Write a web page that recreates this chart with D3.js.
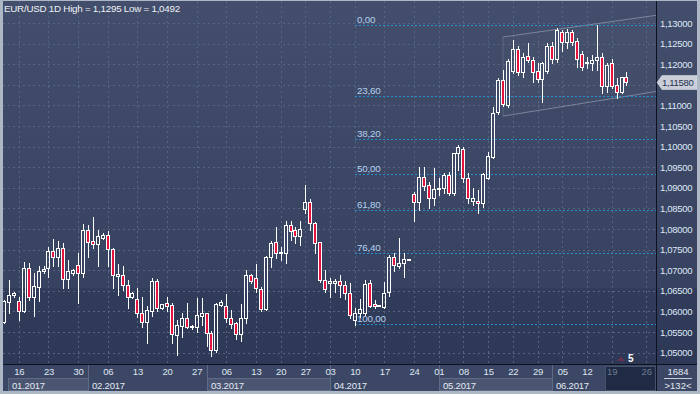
<!DOCTYPE html>
<html><head><meta charset="utf-8">
<script src="https://cdn.jsdelivr.net/npm/d3@7"></script>
<style>
body{margin:0;background:#2e3a57;overflow:hidden}
svg{display:block}
text{font-family:"Liberation Sans",Arial,sans-serif}
</style></head><body>
<svg id="c" width="700" height="394"></svg>
<script>
const opens=[1.0574,1.0624,1.0639,1.0625,1.0601,1.0705,1.0636,1.0660,1.0697,1.0705,1.0747,1.0733,1.0753,1.0678,1.0694,1.0713,1.0694,1.0798,1.0771,1.0763,1.0779,1.0786,1.0751,1.0687,1.0689,1.0664,1.0636,1.0630,1.0596,1.0575,1.0601,1.0674,1.0608,1.0620,1.0616,1.0543,1.0565,1.0583,1.0561,1.0562,1.0590,1.0596,1.0547,1.0507,1.0616,1.0613,1.0583,1.0573,1.0545,1.0583,1.0689,1.0681,1.0654,1.0605,1.0733,1.0768,1.0741,1.0741,1.0810,1.0798,1.0782,1.0848,1.0865,1.0814,1.0768,1.0676,1.0670,1.0670,1.0674,1.0664,1.0644,1.0579,1.0596,1.0596,1.0668,1.0618,1.0614,1.0610,1.0646,1.0733,1.0710,1.0717,1.0725,1.0885,1.0866,1.0926,1.0907,1.0875,1.0897,1.0899,1.0931,1.0888,1.0984,1.0994,1.0923,1.0868,1.0868,1.0863,1.0923,1.0974,1.1083,1.1162,1.1101,1.1184,1.1236,1.1182,1.1220,1.1210,1.1184,1.1164,1.1184,1.1243,1.1212,1.1278,1.1253,1.1278,1.1257,1.1225,1.1202,1.1202,1.1209,1.1217,1.1146,1.1204,1.1150,1.1133,1.1168];
const highs=[1.0628,1.0676,1.0647,1.0636,1.0721,1.0717,1.0694,1.0710,1.0709,1.0757,1.0775,1.0771,1.0767,1.0725,1.0702,1.0741,1.0812,1.0810,1.0830,1.0798,1.0791,1.0794,1.0753,1.0715,1.0710,1.0676,1.0648,1.0656,1.0636,1.0612,1.0681,1.0679,1.0618,1.0636,1.0621,1.0579,1.0597,1.0620,1.0566,1.0632,1.0632,1.0597,1.0553,1.0621,1.0628,1.0642,1.0604,1.0575,1.0618,1.0701,1.0691,1.0715,1.0660,1.0735,1.0772,1.0806,1.0757,1.0820,1.0820,1.0806,1.0820,1.0907,1.0872,1.0818,1.0769,1.0701,1.0681,1.0679,1.0689,1.0675,1.0668,1.0608,1.0630,1.0676,1.0676,1.0628,1.0616,1.0672,1.0737,1.0741,1.0778,1.0741,1.0727,1.0891,1.0951,1.0951,1.0915,1.0948,1.0923,1.0935,1.0939,1.0985,1.1004,1.1000,1.0935,1.0899,1.0895,1.0935,1.0988,1.1096,1.1166,1.1186,1.1212,1.1259,1.1243,1.1227,1.1251,1.1218,1.1202,1.1206,1.1251,1.1255,1.1287,1.1283,1.1285,1.1283,1.1263,1.1231,1.1218,1.1222,1.1295,1.1227,1.1202,1.1212,1.1166,1.1170,1.1180];
const lows=[1.0572,1.0596,1.0635,1.0579,1.0599,1.0628,1.0590,1.0626,1.0693,1.0684,1.0709,1.0711,1.0658,1.0658,1.0689,1.0620,1.0684,1.0733,1.0753,1.0710,1.0775,1.0709,1.0656,1.0640,1.0652,1.0608,1.0632,1.0587,1.0562,1.0523,1.0589,1.0601,1.0607,1.0602,1.0524,1.0495,1.0539,1.0559,1.0557,1.0551,1.0567,1.0515,1.0492,1.0502,1.0612,1.0575,1.0559,1.0533,1.0527,1.0571,1.0670,1.0648,1.0600,1.0604,1.0707,1.0729,1.0725,1.0718,1.0774,1.0767,1.0760,1.0838,1.0798,1.0741,1.0672,1.0648,1.0634,1.0648,1.0634,1.0630,1.0583,1.0567,1.0587,1.0592,1.0610,1.0608,1.0613,1.0608,1.0638,1.0699,1.0705,1.0683,1.0724,1.0820,1.0846,1.0895,1.0850,1.0858,1.0883,1.0887,1.0883,1.0883,1.0943,1.0915,1.0863,1.0858,1.0840,1.0854,1.0921,1.0972,1.1079,1.1099,1.1096,1.1179,1.1174,1.1170,1.1206,1.1158,1.1158,1.1109,1.1178,1.1202,1.1206,1.1231,1.1239,1.1247,1.1194,1.1186,1.1190,1.1186,1.1186,1.1131,1.1133,1.1142,1.1117,1.1130,1.1150];
const closes=[1.0625,1.0640,1.0645,1.0600,1.0705,1.0636,1.0662,1.0698,1.0703,1.0747,1.0733,1.0753,1.0678,1.0697,1.0701,1.0694,1.0798,1.0769,1.0763,1.0782,1.0786,1.0751,1.0689,1.0690,1.0664,1.0636,1.0644,1.0596,1.0575,1.0604,1.0674,1.0608,1.0617,1.0614,1.0544,1.0567,1.0583,1.0561,1.0565,1.0592,1.0596,1.0547,1.0507,1.0617,1.0622,1.0583,1.0569,1.0545,1.0583,1.0689,1.0675,1.0656,1.0605,1.0733,1.0766,1.0741,1.0745,1.0810,1.0796,1.0782,1.0799,1.0865,1.0814,1.0766,1.0676,1.0654,1.0674,1.0674,1.0664,1.0644,1.0592,1.0596,1.0605,1.0666,1.0614,1.0612,1.0616,1.0644,1.0733,1.0713,1.0717,1.0727,1.0727,1.0866,1.0926,1.0905,1.0875,1.0897,1.0900,1.0931,1.0887,1.0984,1.1000,1.0923,1.0875,1.0875,1.0863,1.0934,1.0976,1.1082,1.1162,1.1104,1.1208,1.1236,1.1182,1.1217,1.1210,1.1182,1.1164,1.1204,1.1243,1.1212,1.1283,1.1253,1.1278,1.1253,1.1213,1.1194,1.1205,1.1210,1.1217,1.1146,1.1198,1.1146,1.1132,1.1168,1.1158];

const dayLabels=["16","23","30","06","13","20","27","06","13","20","27","03","10","17","24","01","08","15","22","29","05","12","19","26"];
const dayIdx=[3,9,15,21,27,33,39,45,51,56,61,66,71,77,83,88,93,98,103,108,113,118,123,130];
const monthLabels=["01.2017","02.2017","03.2017","04.2017","05.2017","06.2017"];
const monthStartIdx=[0,17,41,66,88,111];
const monthBoxed=[true,false,true,false,true,false];
const yTicks=[1.13,1.125,1.12,1.115,1.11,1.105,1.10,1.095,1.09,1.085,1.08,1.075,1.07,1.065,1.06,1.055,1.05];
const fibLevels=[0,23.6,38.2,50,61.8,76.4,100];
const fibLabels=["0,00","23,60","38,20","50,00","61,80","76,40","100,00"];
const fibHigh=1.1295, fibLow=1.0570, fibStartIdx=71;
const channelUpper=[[101,1.1266],[132.2,1.1319]];
const channelLower=[[101,1.1074],[132.2,1.1134]];
const lastPrice=1.1158;
const titleText="EUR/USD 1D High = 1,1295 Low = 1,0492";
const futureStartIdx=121.6;
const markerIdx=125, markerText="5";
const cornerTop="1684", cornerBottom=">132<";

const W=700,H=394, plotL=3, plotR=656, plotT=1, plotB=364;
const svg=d3.select("#c");
const x=d3.scaleLinear().domain([0,131]).range([4,4+131*4.94]);
const y=d3.scaleLinear().domain([1.05,1.13]).range([352.6,23]);
const fmt=v=>d3.format(".5f")(v).replace(".",",");

const defs=svg.append("defs");
const g1=defs.append("linearGradient").attr("id","bg").attr("x1",0).attr("x2",0).attr("y1",0).attr("y2",1);
[[0,"#424e6b"],[0.73,"#36425f"],[0.731,"#303c59"],[1,"#2b3754"]].forEach(s=>g1.append("stop").attr("offset",s[0]).attr("stop-color",s[1]));
const cp=defs.append("clipPath").attr("id","plot");
cp.append("rect").attr("x",plotL).attr("y",plotT).attr("width",plotR-plotL).attr("height",plotB-plotT);

svg.append("rect").attr("width",W).attr("height",H).attr("fill","url(#bg)");

const plot=svg.append("g").attr("clip-path","url(#plot)");
plot.selectAll(".hg").data(yTicks).enter().append("line")
  .attr("x1",plotL).attr("x2",plotR)
  .attr("y1",d=>Math.round(y(d))+0.5).attr("y2",d=>Math.round(y(d))+0.5)
  .attr("stroke","#57647f").attr("stroke-dasharray","2,3");
plot.selectAll(".vg").data(dayIdx).enter().append("line")
  .attr("x1",d=>Math.round(x(d))+0.5).attr("x2",d=>Math.round(x(d))+0.5)
  .attr("y1",plotT).attr("y2",plotB)
  .attr("stroke","#57647f").attr("stroke-dasharray","2,3");

// channel
const chLine=d3.line().x(d=>x(d[0])).y(d=>y(d[1]));
plot.append("path").attr("d",chLine([channelUpper[0],channelUpper[1],channelLower[1],channelLower[0]])+"Z")
  .attr("fill","rgba(255,255,255,0.02)").attr("stroke","none");
[channelUpper,channelLower].forEach(c=>plot.append("path").attr("d",chLine(c)).attr("fill","none").attr("stroke","#8e99ae").attr("stroke-opacity",0.75));
plot.append("path").attr("d",chLine([channelUpper[0],channelLower[0]])).attr("fill","none").attr("stroke","#8e99ae").attr("stroke-opacity",0.35);

// fib
const fibPrice=l=>fibHigh-(fibHigh-fibLow)*l/100;
const fx0=Math.round(x(fibStartIdx));
plot.selectAll(".fib").data(fibLevels).enter().append("line")
  .attr("x1",fx0).attr("x2",plotR)
  .attr("y1",d=>Math.round(y(fibPrice(d)))+0.5).attr("y2",d=>Math.round(y(fibPrice(d)))+0.5)
  .attr("stroke","#2590d4").attr("stroke-dasharray","2,2");
plot.selectAll(".fibt").data(fibLevels).enter().append("text")
  .attr("x",fx0+2).attr("y",d=>Math.round(y(fibPrice(d)))-2)
  .attr("fill","#b4d0f0").attr("font-size","9.8px").attr("letter-spacing","-0.2px")
  .text((d,i)=>fibLabels[i]);

// candles
const data=opens.map((o,i)=>({i,o,h:highs[i],l:lows[i],c:closes[i]}));
const cg=plot.append("g");
data.forEach(d=>{
  const cx=Math.round(x(d.i));
  const top=Math.round(y(Math.max(d.o,d.c)))+0.5;
  let bot=Math.round(y(Math.min(d.o,d.c)))+0.5;
  if(bot-top<1) bot=top+1;
  const hy=Math.round(y(d.h)), ly=Math.round(y(d.l));
  if(hy<top) cg.append("line").attr("x1",cx+0.5).attr("x2",cx+0.5).attr("y1",hy).attr("y2",top).attr("stroke","#fff");
  if(ly>bot) cg.append("line").attr("x1",cx+0.5).attr("x2",cx+0.5).attr("y1",bot).attr("y2",ly+1).attr("stroke","#fff");
  cg.append("rect").attr("x",cx-1.5).attr("y",top).attr("width",3).attr("height",bot-top)
    .attr("fill",d.c>=d.o?"none":"#e3153f").attr("stroke","#fff").attr("stroke-width",1);
});

svg.append("text").attr("x",4).attr("y",11.5).attr("fill","#eef1f6").attr("font-size","9.8px").attr("letter-spacing","-0.25px").text(titleText);

// marker
svg.append("path").attr("d",d3.symbol(d3.symbolTriangle,28)()).attr("transform",`translate(${x(markerIdx)-0.5},359.5) scale(1,0.6)`).attr("fill","#6b3050");
svg.append("text").attr("x",x(markerIdx)+6.5).attr("y",362).attr("fill","#fff").attr("font-size","10px").attr("font-weight","bold").text(markerText);

// bottom strip
svg.append("rect").attr("x",3).attr("y",365).attr("width",654).attr("height",26).attr("fill","#3b4764");
const segX=monthStartIdx.map((s,i)=>i===0?8:Math.round(x(s)));
monthLabels.forEach((m,i)=>{
  const x0=segX[i];
  const x1=i<monthLabels.length-1?segX[i+1]:Math.round(x(futureStartIdx));
  if(monthBoxed[i]) svg.append("rect").attr("x",x0+0.5).attr("y",378.5).attr("width",x1-x0).attr("height",12).attr("fill","#4a5671").attr("stroke","#5f6b85");
  if(i>0) svg.append("line").attr("x1",x0+0.5).attr("x2",x0+0.5).attr("y1",365).attr("y2",391).attr("stroke","#5f6b85");
  svg.append("text").attr("x",x0+4).attr("y",388.5).attr("fill","#e4e9f2").attr("font-size","9.5px").attr("letter-spacing","-0.2px").text(m);
});
const fx=Math.round(x(futureStartIdx));
svg.append("rect").attr("x",fx+0.5).attr("y",366.5).attr("width",plotR-fx-1).attr("height",24).attr("fill","#1f2a45").attr("stroke","#46516b");

const xa=svg.append("g").attr("transform",`translate(0,365)`)
  .call(d3.axisBottom(x).tickValues(dayIdx).tickSize(0).tickPadding(3).tickFormat((d,i)=>dayLabels[i]));
xa.select(".domain").remove();
xa.selectAll("text").attr("font-family","Liberation Sans, Arial, sans-serif").attr("font-size","9.5px").attr("letter-spacing","-0.2px")
  .attr("fill",d=>d>=futureStartIdx?"#6f7b93":"#dfe6f1");

svg.append("line").attr("x1",plotR+0.5).attr("x2",plotR+0.5).attr("y1",0).attr("y2",391).attr("stroke","#0d1220");
svg.append("line").attr("x1",3).attr("x2",697).attr("y1",364.5).attr("y2",364.5).attr("stroke","#0d1220");

// y axis (labels hidden behind the price tag are not drawn, as in the reference)
const ly0=Math.round(y(lastPrice));
const visibleTicks=yTicks.filter(t=>Math.abs(y(t)-ly0)>9);
const ya=svg.append("g").attr("transform",`translate(${plotR+1},0)`)
  .call(d3.axisRight(y).tickValues(visibleTicks).tickSize(0).tickPadding(3).tickFormat(fmt));
ya.select(".domain").remove();
ya.selectAll("text").attr("font-family","Liberation Sans, Arial, sans-serif").attr("font-size","9.5px").attr("letter-spacing","-0.3px").attr("fill","#dfe8f6");

// last price tag
svg.append("path").attr("d",`M${plotR+1},${ly0+0.5} L${plotR+6},${ly0-6.5} L697,${ly0-6.5} L697,${ly0+7.5} L${plotR+6},${ly0+7.5} Z`).attr("fill","#c9ced8").attr("stroke","#e8ebf0").attr("stroke-width",0.5);
svg.append("text").attr("x",plotR+6).attr("y",ly0+4).attr("fill","#233252").attr("font-size","9.5px").attr("letter-spacing","-0.3px").text(fmt(lastPrice));

// corner box
svg.append("rect").attr("x",plotR+1).attr("y",365).attr("width",40).attr("height",26).attr("fill","#3b4764");
svg.append("text").attr("x",678).attr("y",375).attr("text-anchor","middle").attr("fill","#e4e9f2").attr("font-size","9.5px").text(cornerTop);
svg.append("line").attr("x1",664).attr("x2",692).attr("y1",378.5).attr("y2",378.5).attr("stroke","#c9d0dc");
svg.append("text").attr("x",678).attr("y",388.5).attr("text-anchor","middle").attr("fill","#e4e9f2").attr("font-size","9.5px").text(cornerBottom);

// frame
svg.append("rect").attr("x",1).attr("y",0.5).attr("width",697.5).attr("height",391.5).attr("fill","none").attr("stroke","#aeb7c6").attr("stroke-width",1);
svg.append("rect").attr("x",0).attr("y",0).attr("width",3).attr("height",H).attr("fill","#aeb7c6");
svg.append("rect").attr("x",0).attr("y",391).attr("width",W).attr("height",3).attr("fill","#aeb7c6");
svg.append("rect").attr("x",697).attr("y",0).attr("width",3).attr("height",H).attr("fill","#aeb7c6");
</script></body></html>
